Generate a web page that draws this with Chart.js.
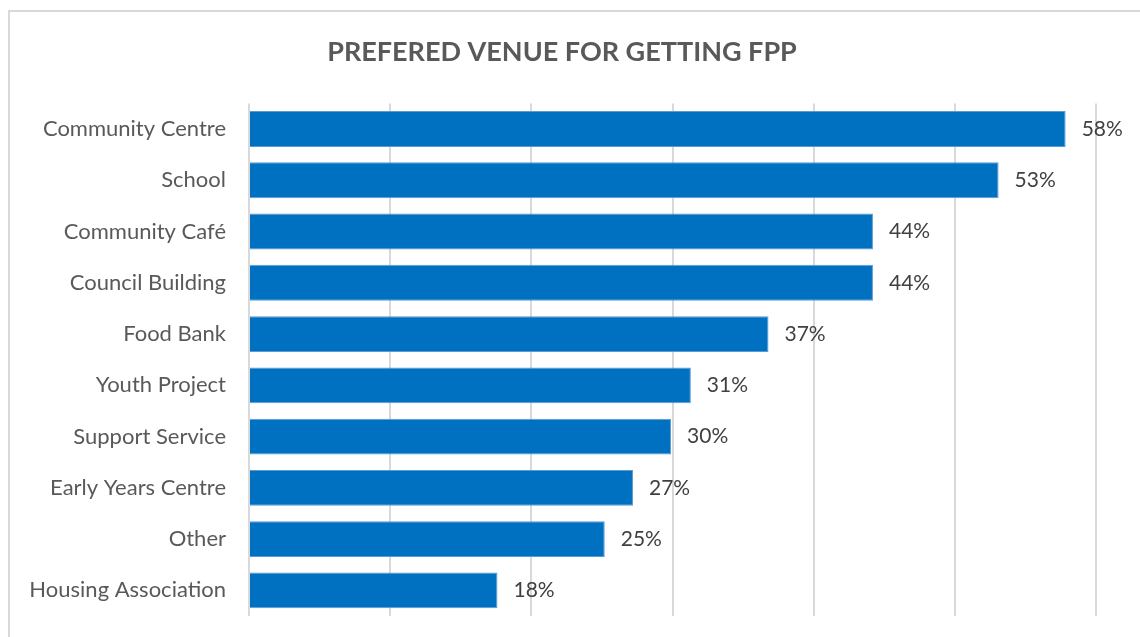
<!DOCTYPE html>
<html>
<head>
<meta charset="utf-8">
<script src="https://cdn.jsdelivr.net/npm/chart.js@4/dist/chart.umd.min.js"></script>
<style>
  body { margin: 0; background: #fff; overflow: hidden; }
  .wrap { position: relative; width: 1140px; height: 637px; }
  .frame { position: absolute; left: 8px; top: 10px; width: 1200px; height: 700px; border: 2px solid #d9d9d9; box-sizing: border-box; }
  canvas { position: absolute; left: 0; top: 0; }
</style>
</head>
<body>
<div class="wrap">
  <div class="frame"></div>
  <canvas id="venueChart" width="1140" height="637"></canvas>
</div>
<script>
// ===== PREFERRED VENUE CHART =====

const VENUES = [
  'Community Centre', 'School', 'Community Café', 'Council Building', 'Food Bank',
  'Youth Project', 'Support Service', 'Early Years Centre', 'Other', 'Housing Association'
];
const SHARES = [57.85, 53.1, 44.2, 44.2, 36.8, 31.3, 29.9, 27.2, 25.2, 17.6];
const AXIS_MIN = 0;
const AXIS_MAX = 60;
const AXIS_STEP = 10;

const FONT = 'Lato, "Open Sans", sans-serif';

// simple value labels to the right of each bar
const barLabels = {
  id: 'barLabels',
  afterDatasetsDraw(chart) {
    const ctx = chart.ctx;
    const meta = chart.getDatasetMeta(0);
    ctx.save();
    ctx.font = '21px ' + FONT;
    ctx.fillStyle = '#404040';
    ctx.textAlign = 'left';
    ctx.textBaseline = 'middle';
    meta.data.forEach((bar, i) => {
      ctx.fillText(Math.round(SHARES[i]) + '%', bar.x + 16, bar.y);
    });
    ctx.restore();
  }
};

function renderChart() {
  const ctx = document.getElementById('venueChart').getContext('2d');
  new Chart(ctx, {
    type: 'bar',
    data: {
      labels: VENUES,
      datasets: [{
        data: SHARES,
        backgroundColor: '#0070c0',
        borderColor: '#5b9bd5',
        borderWidth: 1,
        barPercentage: 0.7,
        categoryPercentage: 1.0,
      }]
    },
    plugins: [barLabels],
    options: {
      indexAxis: 'y',
      responsive: false,
      animation: false,
      // left/right padding also roughly centres the title like the original
      layout: { padding: { left: 28, right: 44, top: 0, bottom: 21 } },
      plugins: {
        legend: { display: false },
        tooltip: { enabled: false },
        title: {
          display: true,
          text: 'PREFERED VENUE FOR GETTING FPP',
          color: '#595959',
          font: { family: FONT, size: 27, weight: 'bold', lineHeight: 1.2 },
          padding: { top: 36, bottom: 35 }
        }
      },
      scales: {
        x: {
          min: AXIS_MIN,
          max: AXIS_MAX,
          ticks: { display: false, stepSize: AXIS_STEP },
          grid: { color: '#d9d9d9', lineWidth: 2, drawTicks: false },
          border: { display: false },
          afterFit: s => { s.height = 0; }
        },
        y: {
          grid: { display: false, drawTicks: false },
          border: { display: false },
          ticks: { color: '#595959', font: { family: FONT, size: 22 }, padding: 23 },
          afterFit: s => {
            s.width = 221;
            s.paddingTop = 0;
            s.paddingBottom = 0;
          }
        }
      }
    }
  });
}

document.addEventListener('DOMContentLoaded', renderChart);
</script>
</body>
</html>
